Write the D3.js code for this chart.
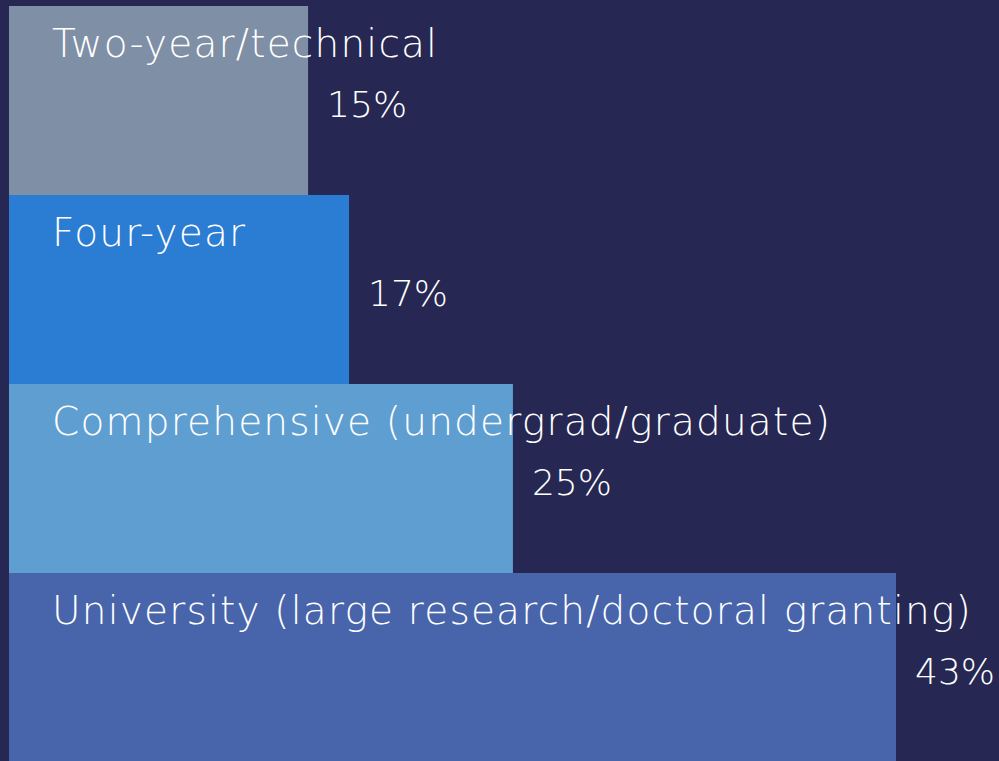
<!DOCTYPE html>
<html><head><meta charset="utf-8">
<script src="https://cdn.jsdelivr.net/npm/d3@7"></script>
<style>html,body{margin:0;padding:0;background:#262752;overflow:hidden}</style>
</head><body>
<script>
const categories = ["Two-year/technical","Four-year","Comprehensive (undergrad/graduate)","University (large research/doctoral granting)"];
const values = [14.6, 16.6, 24.6, 43.3];
const colors = ["#7f8fa6","#2b7cd3","#5f9ed0","#4864aa"];

const W = 999, H = 761;
const svg = d3.select("body").append("svg").attr("width", W).attr("height", H);
svg.append("rect").attr("width", W).attr("height", H).attr("fill", "#262752");

const x = d3.scaleLinear().domain([0, 43.3]).range([9, 896]);
const y = d3.scaleBand().domain(categories).range([6, 762]).padding(0);

const g = svg.selectAll("g.bar").data(categories).join("g").attr("class","bar");
g.append("rect")
  .attr("x", x(0)).attr("y", d => y(d))
  .attr("width", (d,i) => x(values[i]) - x(0))
  .attr("height", y.bandwidth())
  .attr("fill", (d,i) => colors[i]);

const font = "'DejaVu Sans', sans-serif";
g.append("text")
  .attr("x", 52).attr("y", d => y(d) + 51)
  .attr("fill", "#fff").attr("font-family", font).attr("font-weight", 200)
  .attr("font-size", 39).attr("letter-spacing", 1.2)
  .text(d => d);

g.append("text")
  .attr("x", (d,i) => x(values[i]) + 19).attr("y", d => y(d) + 111)
  .attr("fill", "#fff").attr("font-family", font).attr("font-weight", 200)
  .attr("font-size", 36)
  .text((d,i) => d3.format(".0f")(values[i]) + "%");
</script>
</body></html>
